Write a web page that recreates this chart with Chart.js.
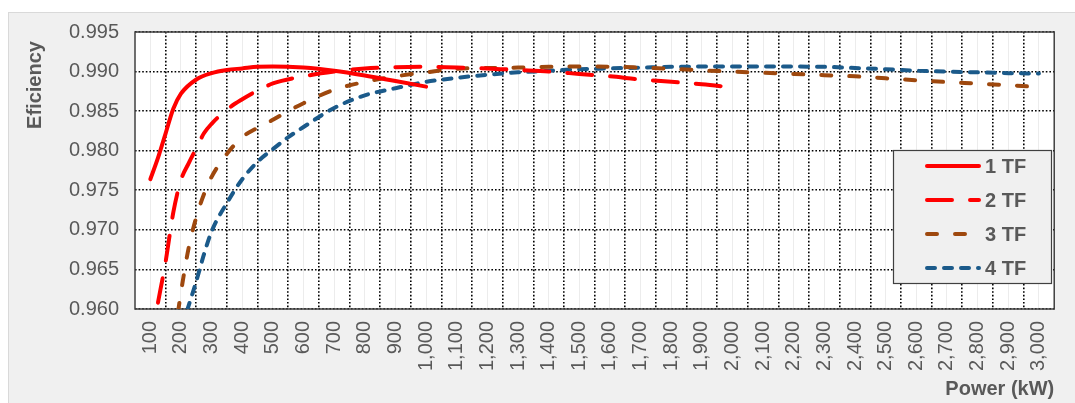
<!DOCTYPE html>
<html>
<head>
<meta charset="utf-8">
<script src="https://cdn.jsdelivr.net/npm/chart.js@4.4.1/dist/chart.umd.min.js"></script>
<style>
  html, body { margin: 0; padding: 0; background: #ffffff; }
  #panel { position: absolute; left: 8px; top: 12px; width: 1075px; height: 400px;
           background: #f0f0f0; border: 1px solid #d9d9d9; box-sizing: border-box; }
  #wrap { position: absolute; left: 0; top: 0; width: 1075px; height: 403px; }
</style>
</head>
<body>
<div id="panel"></div>
<div id="wrap"><canvas id="c" width="1075" height="403"></canvas></div>
<script>
// ---- data ----
const seriesLabels = ['1 TF', '2 TF', '3 TF', '4 TF'];

const tf1Power = [100, 125, 150, 175, 200, 250, 300, 350, 400, 450, 500, 600, 700, 800, 900, 1000];
const tf1Eff   = [0.9764, 0.9791, 0.9822, 0.9853, 0.9872, 0.9890, 0.9898, 0.9902, 0.9904, 0.9906, 0.99065, 0.9905, 0.9901, 0.9895, 0.9888, 0.9881];

const tf2Power = [125, 150, 175, 200, 225, 250, 275, 300, 350, 400, 450, 500, 600, 700, 800, 900, 1000, 1100, 1200, 1300, 1400, 1500, 1600, 1700, 1800, 1900, 2000];
const tf2Eff   = [0.9608, 0.9660, 0.9722, 0.9763, 0.9784, 0.9803, 0.9822, 0.9834, 0.9852, 0.9865, 0.9876, 0.9885, 0.9894, 0.9900, 0.9904, 0.99055, 0.9906, 0.9905, 0.9904, 0.9902, 0.9900, 0.9897, 0.9894, 0.9890, 0.9887, 0.9884, 0.9880];

const tf3Power = [190, 200, 225, 250, 275, 300, 350, 400, 450, 500, 550, 600, 700, 800, 900, 1000, 1100, 1200, 1300, 1400, 1500, 1600, 1700, 1800, 1900, 2000, 2100, 2200, 2300, 2400, 2500, 2600, 2700, 2800, 2900, 3000];
const tf3Eff   = [0.9595, 0.9621, 0.9677, 0.9716, 0.9745, 0.9767, 0.9796, 0.9817, 0.9829, 0.9839, 0.9850, 0.9860, 0.9877, 0.9887, 0.9894, 0.9899, 0.99035, 0.99045, 0.9905, 0.9906, 0.99064, 0.99062, 0.9905, 0.99035, 0.99015, 0.9900, 0.98985, 0.9897, 0.98955, 0.9894, 0.98915, 0.9889, 0.98868, 0.98848, 0.98828, 0.98805];

const tf4Power = [220, 250, 275, 300, 350, 400, 450, 500, 550, 600, 700, 800, 900, 1000, 1100, 1200, 1300, 1400, 1500, 1600, 1700, 1800, 1900, 2000, 2100, 2200, 2300, 2400, 2500, 2600, 2700, 2800, 2900, 3000];
const tf4Eff   = [0.9598, 0.9635, 0.9669, 0.9698, 0.9734, 0.9764, 0.9786, 0.9802, 0.9817, 0.9830, 0.9854, 0.9870, 0.9879, 0.9887, 0.9892, 0.9896, 0.9899, 0.9901, 0.9903, 0.9904, 0.9905, 0.9906, 0.99063, 0.99065, 0.99065, 0.99063, 0.9906, 0.99045, 0.9903, 0.9901, 0.9900, 0.9899, 0.9898, 0.98975];

const powerTicks = [100, 200, 300, 400, 500, 600, 700, 800, 900, 1000, 1100, 1200, 1300, 1400, 1500, 1600, 1700, 1800, 1900, 2000, 2100, 2200, 2300, 2400, 2500, 2600, 2700, 2800, 2900, 3000];
const effTicks = [0.960, 0.965, 0.970, 0.975, 0.980, 0.985, 0.990, 0.995];

const xTitle = 'Power (kW)';
const yTitle = 'Eficiency';

// ---- build ----
const pts = (xs, ys) => xs.map((x, i) => ({ x: x, y: ys[i] }));
const FONT = 'Liberation Sans, Arial, sans-serif';
const TXT = '#595959';

const styles = [
  { color: '#ff0000', dash: [] },
  { color: '#ff0000', dash: [25, 18] },
  { color: '#9e480e', dash: [10, 18] },
  { color: '#1b5a8a', dash: [8, 9] }
];
const powers = [tf1Power, tf2Power, tf3Power, tf4Power];
const effs = [tf1Eff, tf2Eff, tf3Eff, tf4Eff];

const datasets = seriesLabels.map((lab, i) => ({
  label: lab,
  data: pts(powers[i], effs[i]),
  borderColor: styles[i].color,
  backgroundColor: styles[i].color,
  borderWidth: 4,
  borderDash: styles[i].dash,
  borderCapStyle: 'round',
  borderJoinStyle: 'round',
  pointRadius: 0,
  cubicInterpolationMode: 'monotone',
  fill: false
}));

const boundaryTicks = powerTicks.slice(0, -1).map(v => v + 50);

const frame = {
  id: 'frame',
  beforeDraw(chart) {
    const a = chart.chartArea, ctx = chart.ctx;
    ctx.save();
    ctx.fillStyle = '#ffffff';
    ctx.fillRect(a.left, a.top, a.right - a.left, a.bottom - a.top);
    // y-axis title
    ctx.fillStyle = TXT;
    ctx.font = 'bold 20px ' + FONT;
    ctx.textAlign = 'center';
    ctx.textBaseline = 'middle';
    ctx.translate(35, 85);
    ctx.rotate(-Math.PI / 2);
    ctx.fillText(yTitle, 0, 0);
    ctx.restore();
  },
  beforeDatasetsDraw(chart) {
    const a = chart.chartArea, ctx = chart.ctx;
    ctx.save();
    ctx.strokeStyle = '#404040';
    ctx.lineWidth = 1.5;
    ctx.setLineDash([]);
    ctx.strokeRect(a.left, a.top, a.right - a.left, a.bottom - a.top);
    ctx.restore();
  },
  afterDraw(chart) {
    const ctx = chart.ctx;
    const L = 893, T = 150, R = 1052, B = 284;
    ctx.save();
    ctx.fillStyle = '#f0f0f0';
    ctx.fillRect(L, T, R - L, B - T);
    ctx.strokeStyle = '#404040';
    ctx.lineWidth = 1.2;
    ctx.strokeRect(L + 0.5, T + 0.5, R - L - 1, B - T - 1);
    const rows = [166, 200, 234, 268];
    chart.data.datasets.forEach((ds, i) => {
      const y = rows[i];
      ctx.beginPath();
      ctx.strokeStyle = ds.borderColor;
      ctx.lineWidth = 4;
      ctx.lineCap = 'round';
      ctx.setLineDash(ds.borderDash || []);
      ctx.moveTo(927, y);
      ctx.lineTo(979, y);
      ctx.stroke();
      ctx.setLineDash([]);
      ctx.fillStyle = TXT;
      ctx.font = 'bold 20px ' + FONT;
      ctx.textBaseline = 'middle';
      ctx.textAlign = 'left';
      ctx.fillText(ds.label, 985, y + 1);
    });
    ctx.restore();
  }
};

new Chart(document.getElementById('c'), {
  type: 'line',
  data: { datasets: datasets },
  plugins: [frame],
  options: {
    responsive: false,
    animation: false,
    devicePixelRatio: 1,
    layout: { padding: { left: 0, top: 32, right: 6, bottom: 0 } },
    plugins: { legend: { display: false }, tooltip: { enabled: false } },
    scales: {
      x: {
        type: 'linear',
        position: 'bottom',
        min: 50, max: 3050,
        afterBuildTicks: s => { s.ticks = powerTicks.map(v => ({ value: v })); },
        afterFit: s => { s.height = 94; },
        grid: { color: '#ececec', lineWidth: 1, drawTicks: false },
        border: { display: false },
        ticks: {
          autoSkip: false, maxRotation: 90, minRotation: 90, padding: 12,
          color: TXT, font: { family: FONT, size: 20 },
          callback: v => v.toLocaleString('en-US')
        },
        title: { display: true, text: xTitle, align: 'end', color: TXT,
                 font: { family: FONT, size: 20, weight: 'bold' }, padding: { top: 0, bottom: 2 } }
      },
      xg: {
        type: 'linear',
        position: 'bottom',
        min: 50, max: 3050,
        afterBuildTicks: s => { s.ticks = boundaryTicks.map(v => ({ value: v })); },
        afterFit: s => { s.height = 0; },
        grid: { color: '#000000', lineWidth: 1.6, drawTicks: false },
        border: { display: false, dash: [1.6, 2] },
        ticks: { display: false }
      },
      y: {
        min: 0.96, max: 0.995,
        afterBuildTicks: s => { s.ticks = effTicks.map(v => ({ value: v })); },
        afterFit: s => { s.width = 135; },
        grid: { color: '#000000', lineWidth: 1.6, drawTicks: false },
        border: { display: false, dash: [1.6, 2] },
        ticks: { padding: 16, color: TXT, font: { family: FONT, size: 20 },
                 callback: v => Number(v).toFixed(3) },
        title: { display: false }
      }
    }
  }
});
</script>
</body>
</html>
